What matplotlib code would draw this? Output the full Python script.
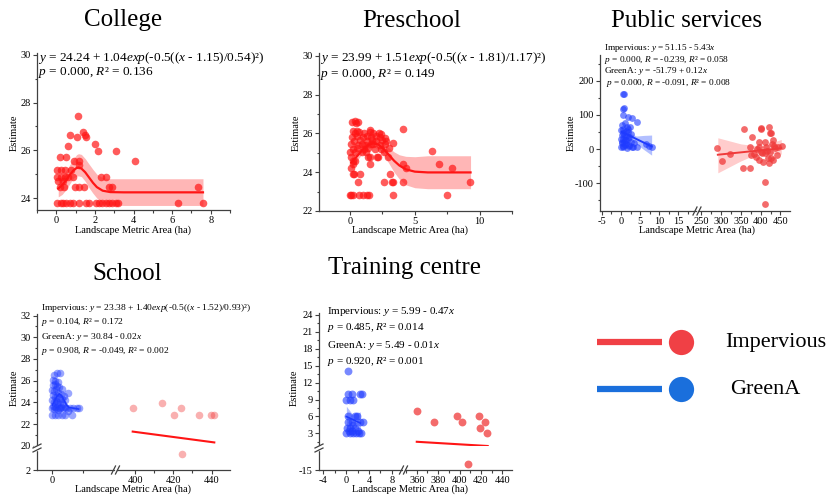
import matplotlib
matplotlib.use('Agg')
import matplotlib.pyplot as plt
from matplotlib.ticker import MultipleLocator

plt.rcParams['font.family'] = ['Liberation Serif', 'DejaVu Serif']
plt.rcParams['mathtext.fontset'] = 'custom'
plt.rcParams['mathtext.rm'] = 'Liberation Serif'
plt.rcParams['mathtext.it'] = 'Liberation Serif:italic'
plt.rcParams['axes.unicode_minus'] = False

# ---------------- data ----------------
# College
col_x = [1.11, 0.73, 1.37, 1.49, 1.54, 1.08, 0.6, 2.0, 2.14, 3.08, 4.07, 0.17, 0.48, 0.9, 1.2, 1.18,
         0.05, 0.26, 0.43, 0.77,
         0.05, 0.22, 0.43, 0.63, 0.85, 2.3, 2.6,
         0.1, 0.34,
         0.17, 0.39, 0.97, 1.2, 1.45, 2.73, 2.87, 7.35,
         0.05, 0.22, 0.34, 0.51, 0.73, 0.85, 1.2, 1.54, 1.71, 2.05, 2.22, 2.36, 2.56, 2.73, 2.9, 3.08,
         3.2, 6.3, 7.6]
col_y = [27.45, 26.66, 26.76, 26.66, 26.58, 26.55, 26.18, 26.25, 25.97, 25.97, 25.56, 25.72, 25.72,
         25.56, 25.56, 25.4,
         25.17, 25.17, 25.17, 25.17,
         24.87, 24.87, 24.87, 24.87, 24.87, 24.87, 24.87,
         24.7, 24.7,
         24.48, 24.48, 24.48, 24.48, 24.48, 24.48, 24.48, 24.48,
         23.79, 23.79, 23.79, 23.79, 23.79, 23.79, 23.79, 23.79, 23.79, 23.79, 23.79, 23.79, 23.79,
         23.79, 23.79, 23.79, 23.79, 23.79, 23.79]
col_fit_x = [0.1, 0.3, 0.5, 0.7, 0.9, 1.05, 1.15, 1.3, 1.5, 1.7, 1.9, 2.1, 2.4, 2.8, 3.5, 7.6]
col_fit_y = [24.40, 24.54, 24.74, 24.97, 25.17, 25.26, 25.28, 25.24, 25.08, 24.86, 24.64, 24.46,
             24.31, 24.25, 24.24, 24.24]
col_lo = [24.05, 24.15, 24.35, 24.6, 24.85, 24.92, 24.93, 24.9, 24.7, 24.43, 24.2, 24.0, 23.8,
          23.7, 23.69, 23.69]
col_hi = [24.8, 24.95, 25.15, 25.4, 25.65, 25.82, 25.86, 25.83, 25.65, 25.42, 25.2, 25.0, 24.85,
          24.81, 24.81, 24.81]

# Preschool
pre_x = [0.0, 0.1, 0.2, 0.7, 1.0, 1.3, 1.45, 3.3, 7.45,
         0.6, 2.6, 3.25, 3.35, 4.1, 9.25,
         0.25, 0.3, 0.75, 3.05,
         0.05, 4.35, 7.9,
         0.2, 1.5, 4.1, 6.9,
         0.2, 0.35,
         0.1, 1.4, 1.5, 2.1, 2.15, 2.9,
         0.0, 0.4, 0.9, 1.2, 2.6, 6.3,
         0.2, 0.5, 1.1, 1.4, 1.9, 2.4, 3.0,
         0.1, 0.6, 0.9, 1.15, 1.6, 1.8, 2.3, 2.7, 3.3,
         0.3, 0.8, 1.3, 1.7, 2.0, 2.5, 2.8,
         0.15, 0.5, 1.0, 1.3, 1.6, 2.0, 2.3, 2.7,
         0.4, 0.7, 1.1, 1.5, 1.8, 2.2, 2.4,
         0.25, 0.55, 1.5, 4.05,
         0.15, 0.35, 0.45, 0.6]
pre_y = [22.8, 22.8, 22.8, 22.8, 22.8, 22.8, 22.8, 22.8, 22.8,
         23.5, 23.5, 23.5, 23.5, 23.5, 23.5,
         23.9, 23.9, 23.9, 23.9,
         24.2, 24.2, 24.2,
         24.45, 24.45, 24.45, 24.45,
         24.6, 24.6,
         24.8, 24.8, 24.8, 24.8, 24.8, 24.8,
         25.05, 25.05, 25.05, 25.05, 25.05, 25.1,
         25.2, 25.25, 25.2, 25.25, 25.2, 25.2, 25.25,
         25.45, 25.4, 25.45, 25.4, 25.45, 25.45, 25.4, 25.45, 25.5,
         25.6, 25.65, 25.6, 25.65, 25.6, 25.65, 25.6,
         25.8, 25.85, 25.8, 25.85, 25.8, 25.85, 25.8, 25.75,
         26.0, 26.05, 26.0, 26.05, 26.0, 26.0, 25.95,
         26.15, 26.15, 26.2, 26.25,
         26.6, 26.65, 26.55, 26.6]
pre_fit_x = [0.1, 0.4, 0.7, 1.0, 1.4, 1.8, 2.2, 2.6, 3.0, 3.4, 3.8, 4.3, 5.0, 6.0, 9.3]
pre_fit_y = [24.51, 24.72, 24.95, 25.18, 25.41, 25.50, 25.42, 25.19, 24.89, 24.59, 24.35, 24.15,
             24.03, 23.99, 23.99]
pre_lo = [24.15, 24.45, 24.75, 25.0, 25.22, 25.3, 25.2, 24.9, 24.45, 24.0, 23.65, 23.35, 23.2,
          23.15, 23.15]
pre_hi = [24.85, 25.0, 25.15, 25.35, 25.6, 25.72, 25.65, 25.45, 25.25, 25.05, 24.9, 24.82, 24.8,
          24.85, 24.85]

# Public services
ps_g_x = [0.4, 0.9, 0.4, 0.9, 0.6, 1.9, 2.8, 4.1, 1.0, 0.2,
          1.5, 2.3, 0.1, 0.5, 1.2, 1.8, 2.5, 0.3, 0.8, 1.4,
          2.0, 0.1, 0.6, 1.1, 1.7, 2.6, 0.2, 0.7, 1.3, 0.4,
          1.0, 2.2, 3.2, 0.1, 0.5, 1.5, 2.9, 4.2, 0.3, 1.2,
          2.0, 3.5, 0.6, 1.8, 6.6, 8.0, 7.2]
ps_g_y = [162, 162, 118, 120, 100, 95, 92, 80, 77, 70,
          66, 64, 55, 58, 52, 50, 45, 42, 40, 38,
          35, 30, 28, 25, 30, 22, 18, 20, 15, 10,
          12, 8, 5, 5, 6, 4, 5, 5, 20, 25,
          12, 18, 48, 60, 15, 5, 8]
ps_g_fit_x = [0.1, 8.0]
ps_g_fit_y = [50.6, 7.7]
ps_g_band_x = [0.1, 2.0, 4.0, 6.0, 8.0]
ps_g_lo = [38, 30, 15, -2, -18]
ps_g_hi = [64, 48, 38, 40, 41]
ps_i_x = [289, 302, 323, 358, 355, 372, 379, 372, 376, 396, 396, 400, 402, 404, 410, 410, 410, 414,
          418, 421, 423, 427, 429, 431, 431, 436, 440, 444, 455, 423, 416, 389, 397, 406, 420, 384,
          392, 412, 425, 433, 401]
ps_i_y = [4, -34, -16, 58, -57, -57, 36, 5, -18, 22, 5, 61, 58, -12, -13, -96, -160, 7, -27, 66,
          46, 46, 15, 26, -32, 2, -18, 7, 9, -8, -5, -22, -32, -37, -40, -15, 0, 20, -25, 10, -10]
ps_i_fit_x = [292, 452]
ps_i_fit_y = [-16.8, 2.4]
ps_i_band_x = [292, 350, 400, 452]
ps_i_lo = [-70, -35, -10, -15]
ps_i_hi = [33, 15, 8, 28]

# School
sch_g_x = [0.9, 1.6, 0.4, 0.2, 0.6, 1.2, 0.1, 0.5, 1.0, 1.5,
           2.0, 0.0, 0.4, 0.8, 1.3, 1.8, 2.4, 3.4, 0.1, 0.5,
           0.9, 1.4, 2.0, 2.6, 0.0, 0.3, 0.7, 1.1, 1.6, 2.2,
           0.2, 0.6, 1.0, 1.4, 1.9, 2.8, 0.0, 0.4, 0.8, 1.3,
           1.7, 2.3, 3.0, 3.8, 4.5, 5.2, 5.6, -0.1, 0.6, 1.3,
           2.0, 2.7, 4.2, 3.3]
sch_g_y = [26.7, 26.75, 26.5, 26.1, 26.0, 25.9, 25.6, 25.7, 25.5, 25.4,
           25.2, 25.1, 25.0, 25.2, 24.9, 24.8, 24.6, 24.85, 24.7, 24.5,
           24.6, 24.4, 24.3, 24.2, 24.2, 24.0, 24.1, 23.9, 24.0, 23.8,
           23.7, 23.6, 23.8, 23.5, 23.6, 23.6, 23.5, 23.4, 23.5, 23.3,
           23.5, 23.5, 23.5, 23.5, 23.5, 23.5, 23.5, 22.8, 22.8, 22.8,
           22.8, 22.8, 22.8, 23.2]
sch_g_fit_x = [0.0, 0.5, 1.0, 1.5, 2.0, 2.5, 3.0, 3.5, 5.6]
sch_g_fit_y = [23.75, 24.15, 24.58, 24.78, 24.6, 24.18, 23.77, 23.53, 23.38]
sch_i_x = [398.8, 414.3, 420.3, 424.0, 433.6, 439.7, 441.0]
sch_i_y = [23.5, 23.9, 22.8, 23.5, 22.8, 22.8, 22.8]
sch_i_low_x = [424.3]
sch_i_low_y = [10]
sch_i_fit_x = [398.8, 441.4]
sch_i_fit_y = [21.3, 20.3]

# Training centre
tc_g_x = [0.4, 0.4, 1.0, 2.5, 2.8, 0.0, 0.7, 1.2, 1.6, 1.9, 0.3, 0.4, 1.0, 2.5, 2.9, 0.1, 0.7,
          1.6, 1.2, 0.0, 0.6, 1.2, 1.8, 2.3, 2.7, 0.5, 1.0, 2.1]
tc_g_y = [14, 10, 10, 10, 10, 9, 9, 9, 6, 6, 6, 5, 5, 5, 5, 4, 4, 4, 4.5, 3, 3, 3, 3, 3, 3,
          3.5, 3.5, 3.5]
tc_g_fit_x = [0.05, 2.5]
tc_g_fit_y = [5.97, 4.82]
tc_g_band_x = [0.05, 1.1, 2.5]
tc_g_lo = [3.8, 5.0, 3.3]
tc_g_hi = [7.8, 6.4, 6.8]
tc_i_x = [360, 376.5, 397.4, 402.4, 418.3, 419, 424, 426]
tc_i_y = [7, 5, 6, 5, 6, 4, 5, 3]
tc_i_low_x = [408]
tc_i_low_y = [-11.4]
tc_i_fit_x = [360, 426.3]
tc_i_fit_y = [1.5, 0.75]

RED = '#ff1515'
RED_BAND = '#ffaaaa'
PS_RED = '#f03a3a'
BLUE = '#1f3bff'
BLUE_BAND = '#9fb0ff'
AX = '#404040'

W, H = 829, 495
fig = plt.figure(figsize=(W / 100, H / 100), dpi=100)


def box(l, t, r, b):
    return [l / W, 1 - b / H, (r - l) / W, (b - t) / H]


def new_ax(l, t, r, b, left=True, bottom=True):
    ax = fig.add_axes(box(l, t, r, b))
    ax.patch.set_alpha(0)
    for s in ('top', 'right'):
        ax.spines[s].set_visible(False)
    ax.spines['left'].set_visible(left)
    ax.spines['bottom'].set_visible(bottom)
    for s in ('left', 'bottom'):
        ax.spines[s].set_color(AX)
        ax.spines[s].set_linewidth(0.9)
    ax.tick_params(which='both', direction='out', color=AX, labelsize=7.5, pad=1.5, width=0.8)
    ax.tick_params(which='major', length=3)
    ax.tick_params(which='minor', length=1.8)
    if not left:
        ax.tick_params(axis='y', which='both', left=False, labelleft=False)
    if not bottom:
        ax.tick_params(axis='x', which='both', bottom=False, labelbottom=False)
    return ax


def locs(ax, xmaj=None, xmin=None, ymaj=None, ymin=None):
    if xmaj: ax.xaxis.set_major_locator(MultipleLocator(xmaj))
    if xmin: ax.xaxis.set_minor_locator(MultipleLocator(xmin))
    if ymaj: ax.yaxis.set_major_locator(MultipleLocator(ymaj))
    if ymin: ax.yaxis.set_minor_locator(MultipleLocator(ymin))


# College
ax = new_ax(37, 53, 230, 210)
ax.fill_between(col_fit_x, col_lo, col_hi, color=RED_BAND, lw=0, alpha=0.85, zorder=1)
ax.scatter(col_x, col_y, s=30, color=RED, alpha=0.7, lw=0, zorder=2)
ax.plot(col_fit_x, col_fit_y, color=RED, lw=1.6, zorder=3)
ax.set_xlim(-1, 9)
ax.set_ylim(23.5, 30.08)
locs(ax, 2, 1, 2, 1)

# Preschool
ax = new_ax(319, 53, 512, 211)
ax.fill_between(pre_fit_x, pre_lo, pre_hi, color=RED_BAND, lw=0, alpha=0.85, zorder=1)
ax.scatter(pre_x, pre_y, s=30, color=RED, alpha=0.7, lw=0, zorder=2)
ax.plot(pre_fit_x, pre_fit_y, color=RED, lw=1.6, zorder=3)
ax.set_xlim(-2.4, 12.5)
ax.set_ylim(22, 30.15)
locs(ax, 5, 2.5, 2, 1)

# Public services (broken x axis)
axl = new_ax(600, 55, 696, 211)
axr = new_ax(698, 55, 790, 211, left=False)
axl.fill_between(ps_g_band_x, ps_g_lo, ps_g_hi, color=BLUE_BAND, lw=0, alpha=0.8, zorder=1)
axl.scatter(ps_g_x, ps_g_y, s=24, color=BLUE, alpha=0.6, lw=0, zorder=2)
axl.plot(ps_g_fit_x, ps_g_fit_y, color=BLUE, lw=1.4, zorder=3)
axr.fill_between(ps_i_band_x, ps_i_lo, ps_i_hi, color=RED_BAND, lw=0, alpha=0.6, zorder=1)
axr.scatter(ps_i_x, ps_i_y, s=24, color=PS_RED, alpha=0.75, lw=0, zorder=2)
axr.plot(ps_i_fit_x, ps_i_fit_y, color=PS_RED, lw=1.4, zorder=3)
for a in (axl, axr):
    a.set_ylim(-182, 276)
axl.set_xlim(-5.5, 19.6)
axr.set_xlim(242, 474)
locs(axl, 5, 2.5, 100, 50)
locs(axr, 50, 25)

# School (broken x and y)
s_ul = new_ax(37, 314, 114, 446, bottom=False)
s_ur = new_ax(117, 314, 230, 446, left=False, bottom=False)
s_ll = new_ax(37, 450, 114, 470)
s_lr = new_ax(117, 450, 230, 470, left=False)
s_ul.scatter(sch_g_x, sch_g_y, s=30, color=BLUE, alpha=0.45, lw=0, zorder=2)
s_ul.plot(sch_g_fit_x, sch_g_fit_y, color=BLUE, lw=1.2, zorder=3)
s_ur.scatter(sch_i_x, sch_i_y, s=30, color=PS_RED, alpha=0.4, lw=0, zorder=2)
s_ur.plot(sch_i_fit_x, sch_i_fit_y, color=RED, lw=1.5, zorder=3)
s_lr.scatter(sch_i_low_x, sch_i_low_y, s=30, color=PS_RED, alpha=0.4, lw=0, zorder=2, clip_on=False)
for a in (s_ul, s_ur):
    a.set_ylim(19.97, 32.15)
for a in (s_ll, s_lr):
    a.set_ylim(2, 12)
for a in (s_ul, s_ll):
    a.set_xlim(-3.3, 13.2)
for a in (s_ur, s_lr):
    a.set_xlim(390.6, 449.6)
locs(s_ul, ymaj=2, ymin=1)
s_ll.set_yticks([2])
s_ll.set_xticks([0])
s_ll.set_xticks([6.5], minor=True)
locs(s_lr, 20, 10)

# Training centre (broken x and y)
t_ul = new_ax(319, 313, 402, 446, bottom=False)
t_ur = new_ax(405, 313, 512, 446, left=False, bottom=False)
t_ll = new_ax(319, 450, 402, 470)
t_lr = new_ax(405, 450, 512, 470, left=False)
t_ul.fill_between(tc_g_band_x, tc_g_lo, tc_g_hi, color=BLUE_BAND, lw=0, alpha=0.8, zorder=1)
t_ul.scatter(tc_g_x, tc_g_y, s=32, color=BLUE, alpha=0.6, lw=0, zorder=2)
t_ul.plot(tc_g_fit_x, tc_g_fit_y, color=BLUE, lw=1.2, zorder=3)
t_ur.scatter(tc_i_x, tc_i_y, s=32, color=PS_RED, alpha=0.75, lw=0, zorder=2)
t_ur.plot(tc_i_fit_x, tc_i_fit_y, color=RED, lw=1.5, zorder=3)
t_lr.scatter(tc_i_low_x, tc_i_low_y, s=32, color=PS_RED, alpha=0.75, lw=0, zorder=2, clip_on=False)
for a in (t_ul, t_ur):
    a.set_ylim(0.75, 24.35)
for a in (t_ll, t_lr):
    a.set_ylim(-15, -3)
for a in (t_ul, t_ll):
    a.set_xlim(-4.75, 9.8)
for a in (t_ur, t_lr):
    a.set_xlim(349, 449)
locs(t_ul, ymaj=3, ymin=1.5)
t_ll.set_yticks([-15])
locs(t_ll, xmaj=4, xmin=2)
locs(t_lr, 20, 10)

# overlay in pixel coordinates: titles, labels, notes, breaks, legend
ov = fig.add_axes([0, 0, 1, 1], zorder=10)
ov.set_xlim(0, W)
ov.set_ylim(H, 0)
ov.axis('off')
ov.patch.set_alpha(0)

titles = [('College', 123, 20), ('Preschool', 412, 21), ('Public services', 687, 21),
          ('School', 127, 274), ('Training centre', 405, 268)]
for t, x, y in titles:
    ov.text(x, y, t, fontsize=18, ha='center', va='center')

for x, y in [(14, 133), (296, 133), (571, 133), (14, 388), (294, 388)]:
    ov.text(x, y, 'Estimate', fontsize=7.5, rotation=90, ha='center', va='center')
for x, y in [(133, 230), (410, 230), (697, 230), (133, 489), (410, 489)]:
    ov.text(x, y, 'Landscape Metric Area (ha)', fontsize=7.5, ha='center', va='center')

notes = [
    (38, [58, 73], 9.5, [r'$y$ = 24.24 + 1.04$exp$(-0.5(($x$ - 1.15)/0.54)²)',
                         r'$p$ = 0.000, $R$² = 0.136']),
    (320, [58, 74], 9.5, [r'$y$ = 23.99 + 1.51$exp$(-0.5(($x$ - 1.81)/1.17)²)',
                          r'$p$ = 0.000, $R$² = 0.149']),
    (604, [48, 60, 71, 83], 6.7, [r'Impervious: $y$ = 51.15 - 5.43$x$',
                                  r'$p$ = 0.000, $R$ = -0.239, $R$² = 0.058',
                                  r'GreenA: $y$ = -51.79 + 0.12$x$',
                                  r' $p$ = 0.000, $R$ = -0.091, $R$² = 0.008']),
    (41, [308, 322, 337, 351], 6.8, [r'Impervious: $y$ = 23.38 + 1.40$exp$(-0.5(($x$ - 1.52)/0.93)²)',
                                     r'$p$ = 0.104, $R$² = 0.172',
                                     r'GreenA: $y$ = 30.84 - 0.02$x$',
                                     r'$p$ = 0.908, $R$ = -0.049, $R$² = 0.002']),
    (327, [311, 328, 345, 362], 8, [r'Impervious: $y$ = 5.99 - 0.47$x$',
                                    r'$p$ = 0.485, $R$² = 0.014',
                                    r'GreenA: $y$ = 5.49 - 0.01$x$',
                                    r'$p$ = 0.920, $R$² = 0.001']),
]
for x, ys, fs, lines in notes:
    for y, s in zip(ys, lines):
        ov.text(x, y, s, fontsize=fs, ha='left', va='center')

# break marks
for bx, by in [(697, 211), (115.5, 470), (403.5, 470)]:
    for off in (-2, 2):
        ov.plot([bx + off - 2, bx + off + 2], [by + 4, by - 4], color=AX, lw=0.9)
for bx, by in [(37, 448), (319, 448)]:
    ov.add_patch(plt.Rectangle((bx - 3, by - 2), 6, 4, color='white', zorder=1))
    for off in (-2, 2):
        ov.plot([bx - 4, bx + 4], [by + off + 2, by + off - 2], color=AX, lw=0.9, zorder=2)

# legend
for y, c, lab, tx in [(342, '#f04045', 'Impervious', 725), (389, '#1a6fdc', 'GreenA', 730)]:
    ov.plot([597, 662], [y, y], color=c, lw=4.5, solid_capstyle='butt')
    ov.scatter([681], [y], s=330, color=c, lw=0)
    ov.text(tx, y, lab, fontsize=16, ha='left', va='center')

fig.savefig('out.png', dpi=100)
